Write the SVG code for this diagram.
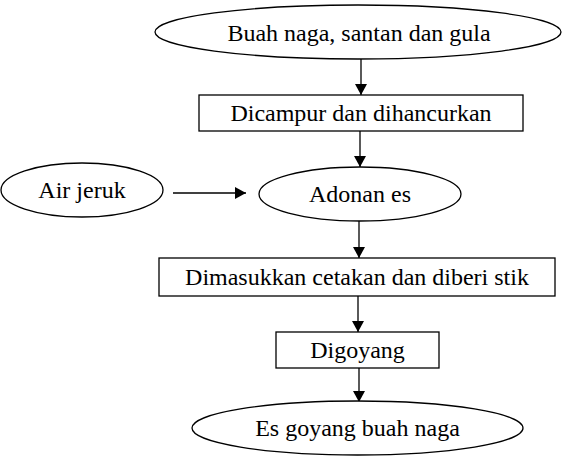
<svg xmlns="http://www.w3.org/2000/svg" width="564" height="456" viewBox="0 0 564 456">
<style>
.n{fill:#fff;stroke:#000;stroke-width:1.3}
.t{font-family:"Liberation Serif","Times New Roman",serif;font-size:24px;fill:#000;text-anchor:middle}
.c{stroke:#000;stroke-width:1.3;fill:none;marker-end:url(#ah)}
</style>
<defs>
<marker id="ah" markerUnits="userSpaceOnUse" markerWidth="12" markerHeight="12" refX="11" refY="6" orient="auto">
<path d="M0,0 L11,6 L0,12 Z" fill="#000"/>
</marker>
</defs>
<g id="connectors">
<line class="c" x1="361" y1="59" x2="361" y2="95"/>
<line class="c" x1="360" y1="131" x2="360" y2="167"/>
<line class="c" x1="173" y1="193" x2="246" y2="193"/>
<line class="c" x1="359" y1="221" x2="359" y2="258"/>
<line class="c" x1="358" y1="296" x2="358" y2="332"/>
<line class="c" x1="359" y1="368" x2="359" y2="402"/>
</g>
<g id="n1"><ellipse class="n" cx="358" cy="32" rx="203" ry="27"/><text class="t" x="359" y="41">Buah naga, santan dan gula</text></g>
<g id="n2"><rect class="n" x="199" y="95" width="324" height="36"/><text class="t" x="361" y="121">Dicampur dan dihancurkan</text></g>
<g id="n3"><ellipse class="n" cx="82" cy="190" rx="81" ry="27"/><text class="t" x="82" y="198">Air jeruk</text></g>
<g id="n4"><ellipse class="n" cx="360" cy="194" rx="101" ry="27"/><text class="t" x="360" y="202">Adonan es</text></g>
<g id="n5"><rect class="n" x="159" y="258" width="396" height="38"/><text class="t" x="357" y="285">Dimasukkan cetakan dan diberi stik</text></g>
<g id="n6"><rect class="n" x="276" y="332" width="163" height="36"/><text class="t" x="357.5" y="358">Digoyang</text></g>
<g id="n7"><ellipse class="n" cx="357.5" cy="428" rx="165.5" ry="27"/><text class="t" x="357.5" y="436">Es goyang buah naga</text></g>
</svg>
